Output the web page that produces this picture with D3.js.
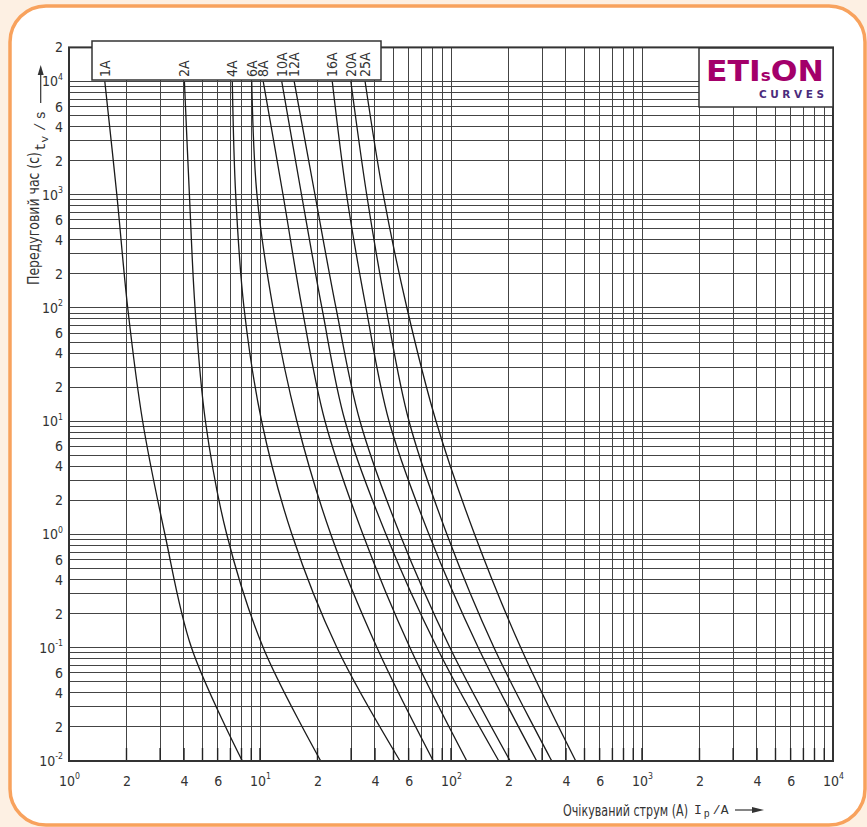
<!DOCTYPE html>
<html>
<head>
<meta charset="utf-8">
<title>etison-curves</title>
<script src="https://cdn.jsdelivr.net/npm/d3@7"></script>
<style>
  body{ margin:0; background:#fdf0e3; }
  svg text{ font-family:"Liberation Sans Narrow","DejaVu Sans Condensed","Roboto Condensed",sans-serif; fill:#333; }
  svg text.mono{ font-family:"Liberation Mono","DejaVu Sans Mono",monospace; }
</style>
</head>
<body>
<script>
// pre-arcing time (s) at which each current is read
var times = [1e4, 1e3, 1e2, 1e1, 1, 0.1, 0.01];
var ratings = ['1A','2A','4A','6A','8A','10A','12A','16A','20A','25A'];
// prospective current (A) for each rating, one value per time above
var i1A  = [1.54, 1.78, 2.03, 2.43, 3.18, 4.38, 8.08];
var i2A  = [4.02, 4.27, 4.57, 5.18, 6.70, 10.4, 20.8];
var i4A  = [7.16, 7.46, 8.25, 10.2, 14.7, 25.3, 54.1];
var i6A  = [9.05, 9.64, 11.7, 15.6, 23.5, 41.0, 80.8];
var i8A  = [10.4, 13.2, 16.6, 21.9, 34.6, 61.0, 121];
var i10A = [13.0, 16.5, 21.1, 27.9, 45.7, 84.5, 178];
var i12A = [15.1, 19.4, 25.0, 33.4, 54.1, 98.8, 204];
var i16A = [23.9, 28.4, 35.9, 47.4, 76.7, 139, 281];
var i20A = [29.9, 36.2, 45.7, 60.3, 95.3, 168, 337];
var i25A = [35.5, 44.2, 58.8, 83.5, 133, 232, 450];

var xTickVals = [1,2,4,6,10,20,40,60,100,200,400,600,1000,2000,4000,6000,10000];
var xTickLabels = ['10^0','2','4','6','10^1','2','4','6','10^2','2','4','6','10^3','2','4','6','10^4'];
var yTickVals = [2e4,1e4,6e3,4e3,2e3,1e3,600,400,200,100,60,40,20,10,6,4,2,1,0.6,0.4,0.2,0.1,0.06,0.04,0.02,0.01];
var yTickLabels = ['2','10^4','6','4','2','10^3','6','4','2','10^2','6','4','2','10^1','6','4','2','10^0','6','4','2','10^-1','6','4','2','10^-2'];

var W = 867, H = 827;
var svg = d3.select('body').append('svg').attr('width', W).attr('height', H);

// card with orange rounded border
svg.append('rect').attr('x', 10).attr('y', 6).attr('width', 855).attr('height', 819).attr('rx', 36)
   .attr('fill', '#fff').attr('stroke', '#f8a25d').attr('stroke-width', 3.5);

var x = d3.scaleLog().domain([1, 1e4]).range([69, 833]);
var y = d3.scaleLog().domain([0.01, 2e4]).range([761, 47.4]);

// log grid
var gridX = [], gridY = [];
for (var d = 0; d < 4; d++) for (var k = 1; k < 10; k++) gridX.push(k * Math.pow(10, d));
gridX.push(1e4);
for (var e = -2; e < 5; e++) for (var k2 = 1; k2 < 10; k2++) { var v = k2 * Math.pow(10, e); if (v <= 2e4) gridY.push(v); }

var grid = svg.append('g').attr('stroke', '#444').attr('stroke-width', 1).attr('shape-rendering', 'crispEdges');
grid.selectAll('.gx').data(gridX).enter().append('line')
    .attr('x1', function(d){ return x(d); }).attr('x2', function(d){ return x(d); })
    .attr('y1', y(0.01)).attr('y2', y(2e4));
grid.selectAll('.gy').data(gridY).enter().append('line')
    .attr('y1', function(d){ return y(d); }).attr('y2', function(d){ return y(d); })
    .attr('x1', x(1)).attr('x2', x(1e4));
// short heavier ticks at the bottom
svg.append('g').attr('stroke', '#222').attr('stroke-width', 1.4)
   .selectAll('line').data(gridX).enter().append('line')
   .attr('x1', function(d){ return x(d); }).attr('x2', function(d){ return x(d); })
   .attr('y1', y(0.01) - 13).attr('y2', y(0.01));

// curves
var curves = [i1A, i2A, i4A, i6A, i8A, i10A, i12A, i16A, i20A, i25A];
var line = d3.line()
    .x(function(p){ return x(p[0]); })
    .y(function(p){ return y(p[1]); })
    .curve(d3.curveCatmullRom.alpha(0.5));
svg.append('g').selectAll('path').data(curves).enter().append('path')
   .attr('d', function(c){ return line(c.map(function(val, i){ return [val, times[i]]; })); })
   .attr('fill', 'none').attr('stroke', '#1a1a1a').attr('stroke-width', 1.3);

// frame
svg.append('rect').attr('x', x(1)).attr('y', y(2e4))
   .attr('width', x(1e4) - x(1)).attr('height', y(0.01) - y(2e4))
   .attr('fill', 'none').attr('stroke', '#333').attr('stroke-width', 2);

// axes
function supText(sel, vals, labels){
  sel.selectAll('.tick text').each(function(d){
    var lab = labels[vals.indexOf(d)], parts = lab.split('^');
    var t = d3.select(this).text(parts[0]);
    if (parts.length > 1) t.append('tspan').attr('dy', '-0.75em').attr('font-size', '0.62em').text(parts[1]);
  });
}
var gy = svg.append('g').attr('transform', 'translate(' + x(1) + ',0)')
    .call(d3.axisLeft(y).tickValues(yTickVals).tickSize(0).tickPadding(6));
gy.select('.domain').remove();
gy.attr('font-size', 14).attr('font-family', null);
supText(gy, yTickVals, yTickLabels);

var gx = svg.append('g').attr('transform', 'translate(0,' + y(0.01) + ')')
    .call(d3.axisBottom(x).tickValues(xTickVals).tickSize(0).tickPadding(15));
gx.select('.domain').remove();
gx.attr('font-size', 14).attr('font-family', null);
supText(gx, xTickVals, xTickLabels);

// rating label box
svg.append('rect').attr('x', 92).attr('y', 41).attr('width', 289).attr('height', 39)
   .attr('fill', '#fff').attr('stroke', '#333').attr('stroke-width', 1.5);
svg.append('g').selectAll('text').data(curves).enter().append('text')
   .attr('transform', function(c){ return 'translate(' + (x(c[0]) + 5) + ',77) rotate(-90)'; })
   .attr('font-size', 14)
   .text(function(c, i){ return ratings[i]; });

// logo
svg.append('rect').attr('x', 699).attr('y', 48).attr('width', 134).attr('height', 59)
   .attr('fill', '#fff').attr('stroke', '#333').attr('stroke-width', 1.5);
var logo = svg.append('text').attr('x', 706).attr('y', 81)
   .attr('font-size', 28).attr('font-weight', 'bold')
   .attr('textLength', 118).attr('lengthAdjust', 'spacingAndGlyphs')
   .style('font-family', '"DejaVu Sans", sans-serif').style('fill', '#a3006a');
logo.append('tspan').text('ETI');
logo.append('tspan').attr('font-size', 15).text('s');
logo.append('tspan').text('ON');
svg.append('text').attr('x', 759).attr('y', 97.5)
   .attr('font-size', 10.5).attr('font-weight', 'bold')
   .attr('textLength', 65).attr('lengthAdjust', 'spacing')
   .style('font-family', '"DejaVu Sans", sans-serif').style('fill', '#4b2c7c')
   .text('CURVES');

// y title
svg.append('text').attr('transform', 'translate(39,285) rotate(-90)')
   .attr('font-size', 15).attr('textLength', 133).attr('lengthAdjust', 'spacingAndGlyphs')
   .text('Передуговий час (с)');
var ty = svg.append('text').attr('class', 'mono').attr('font-size', 14)
   .attr('transform', 'translate(45,151) rotate(-90)');
ty.append('tspan').text('t');
ty.append('tspan').attr('dy', 3).attr('font-size', 11).text('v');
ty.append('tspan').attr('dy', -3).attr('dx', 5).text('/');
ty.append('tspan').attr('dx', 3).text('s');
svg.append('line').attr('x1', 40.7).attr('x2', 40.7).attr('y1', 103).attr('y2', 72)
   .attr('stroke', '#333').attr('stroke-width', 1.2);
svg.append('path').attr('d', 'M40.7,65 L37.7,75 L43.7,75 Z').attr('fill', '#333');

// x title
svg.append('text').attr('x', 563).attr('y', 816)
   .attr('font-size', 15).attr('textLength', 125).attr('lengthAdjust', 'spacingAndGlyphs')
   .text('Очікуваний струм (А)');
var tx = svg.append('text').attr('class', 'mono').attr('x', 694).attr('y', 814).attr('font-size', 13);
tx.append('tspan').text('I');
tx.append('tspan').attr('dy', 3).attr('dx', 2).attr('font-size', 10).text('p');
tx.append('tspan').attr('dy', -3).attr('dx', 3).text('/A');
svg.append('line').attr('x1', 735).attr('x2', 756).attr('y1', 810).attr('y2', 810)
   .attr('stroke', '#333').attr('stroke-width', 1.2);
svg.append('path').attr('d', 'M764,810 L752,807 L752,813 Z').attr('fill', '#333');
</script>
</body>
</html>
